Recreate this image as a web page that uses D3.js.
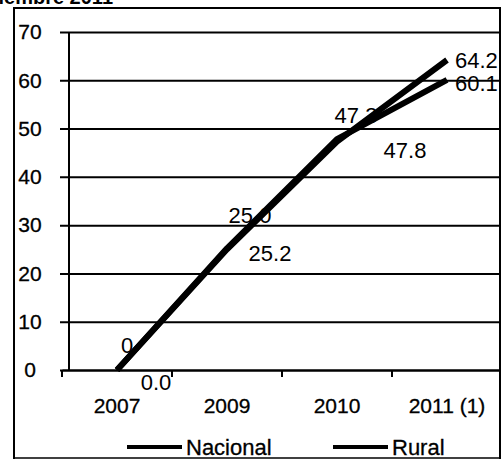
<!DOCTYPE html>
<html><head><meta charset="utf-8">
<script src="https://cdn.jsdelivr.net/npm/d3@7"></script>
<style>html,body{margin:0;padding:0;background:#fff;}svg{display:block;}</style>
</head><body>
<svg id="c" width="501" height="459"></svg>
<script>
const categories = ["2007", "2009", "2010", "2011 (1)"];
const nacional = [0, 25.0, 47.3, 64.2];
const rural = [0, 25.2, 47.8, 60.1];
const nacionalLabels = ["0", "25.0", "47.3", "64.2"];
const ruralLabels = ["0.0", "25.2", "47.8", "60.1"];
const yTicks = [0, 10, 20, 30, 40, 50, 60, 70];
const seriesNames = ["Nacional", "Rural"];
const titleText = "Diciembre 2011";

const font = "'Liberation Sans', Arial, sans-serif";
const svg = d3.select("#c");
const x = d3.scaleBand().domain(categories).range([62, 502]);
const y = d3.scaleLinear().domain([0, 70]).range([370, 32]);
const cx = c => x(c) + x.bandwidth() / 2;

// clipped title
svg.append("text").attr("x", 113).attr("y", 4).attr("text-anchor", "end")
  .attr("font-family", font).attr("font-size", 20).attr("font-weight", "bold")
  .text(titleText);

// frame
svg.append("path").attr("d", "M14,459 V8 H500 V459")
  .attr("fill", "none").attr("stroke", "#000").attr("stroke-width", 2);
svg.append("line").attr("x1", 14).attr("x2", 500).attr("y1", 458).attr("y2", 458)
  .attr("stroke", "#000").attr("stroke-width", 1.5);

// gridlines + y axis
const yAxis = d3.axisLeft(y).tickValues(yTicks).tickSize(-(500 - 69)).tickPadding(0).tickFormat("");
const gy = svg.append("g").attr("transform", "translate(69,0)").call(yAxis);
gy.select(".domain").remove();
gy.selectAll(".tick line").attr("stroke", "#000").attr("stroke-width", 2).attr("x1", -9);
svg.append("line").attr("x1", 69).attr("x2", 69).attr("y1", y(70)).attr("y2", y(0))
  .attr("stroke", "#000").attr("stroke-width", 2);
svg.append("g").selectAll("text").data(yTicks).join("text")
  .attr("x", 30).attr("y", d => y(d)).attr("dy", "0.35em").attr("text-anchor", "middle")
  .attr("font-family", font).attr("font-size", 21).attr("stroke", "#000").attr("stroke-width", 0.3)
  .text(d => d);

// x axis
const xAxis = d3.axisBottom(x).tickSize(0).tickPadding(0);
const gx = svg.append("g").attr("transform", `translate(0,${y(0)})`).call(xAxis);
gx.select(".domain").attr("stroke", "#000").attr("stroke-width", 2);
gx.selectAll(".tick text").attr("font-family", font).attr("font-size", 21).attr("fill", "#000")
  .attr("stroke", "#000").attr("stroke-width", 0.3)
  .attr("y", 43).attr("dy", 0);
const bounds = categories.map(c => x(c)).concat([x.range()[1]]);
gx.selectAll(".bnd").data(bounds).join("line").attr("class", "bnd")
  .attr("x1", d => d).attr("x2", d => d).attr("y1", 0).attr("y2", 7)
  .attr("stroke", "#000").attr("stroke-width", 2);

// lines
const line = d3.line().x((d, i) => cx(categories[i])).y(d => y(d));
[nacional, rural].forEach(s => {
  svg.append("path").datum(s).attr("d", line).attr("fill", "none")
    .attr("stroke", "#000").attr("stroke-width", 6).attr("stroke-linejoin", "round");
});

// data labels
const nacOff = [[10, -25, "middle"], [23, -34, "middle"], [19, -26, "middle"], [8, 0, "start"]];
const rurOff = [[39, 12, "middle"], [43, 5, "middle"], [68, 11, "middle"], [8, 3, "start"]];
function labels(vals, texts, off) {
  svg.append("g").selectAll("text").data(vals).join("text")
    .attr("x", (d, i) => cx(categories[i]) + off[i][0])
    .attr("y", (d, i) => y(d) + off[i][1])
    .attr("dy", "0.35em").attr("text-anchor", (d, i) => off[i][2])
    .attr("font-family", font).attr("font-size", 22).attr("fill", "#000")
    .text((d, i) => texts[i]);
}
labels(nacional, nacionalLabels, nacOff);
labels(rural, ruralLabels, rurOff);

// legend
const legX = [127, 333];
seriesNames.forEach((n, i) => {
  svg.append("line").attr("x1", legX[i]).attr("x2", legX[i] + 55).attr("y1", 447).attr("y2", 447)
    .attr("stroke", "#000").attr("stroke-width", 4);
  svg.append("text").attr("x", legX[i] + 59).attr("y", 455)
    .attr("font-family", font).attr("font-size", 22).attr("stroke", "#000").attr("stroke-width", 0.3)
    .text(n);
});
</script>
</body></html>
